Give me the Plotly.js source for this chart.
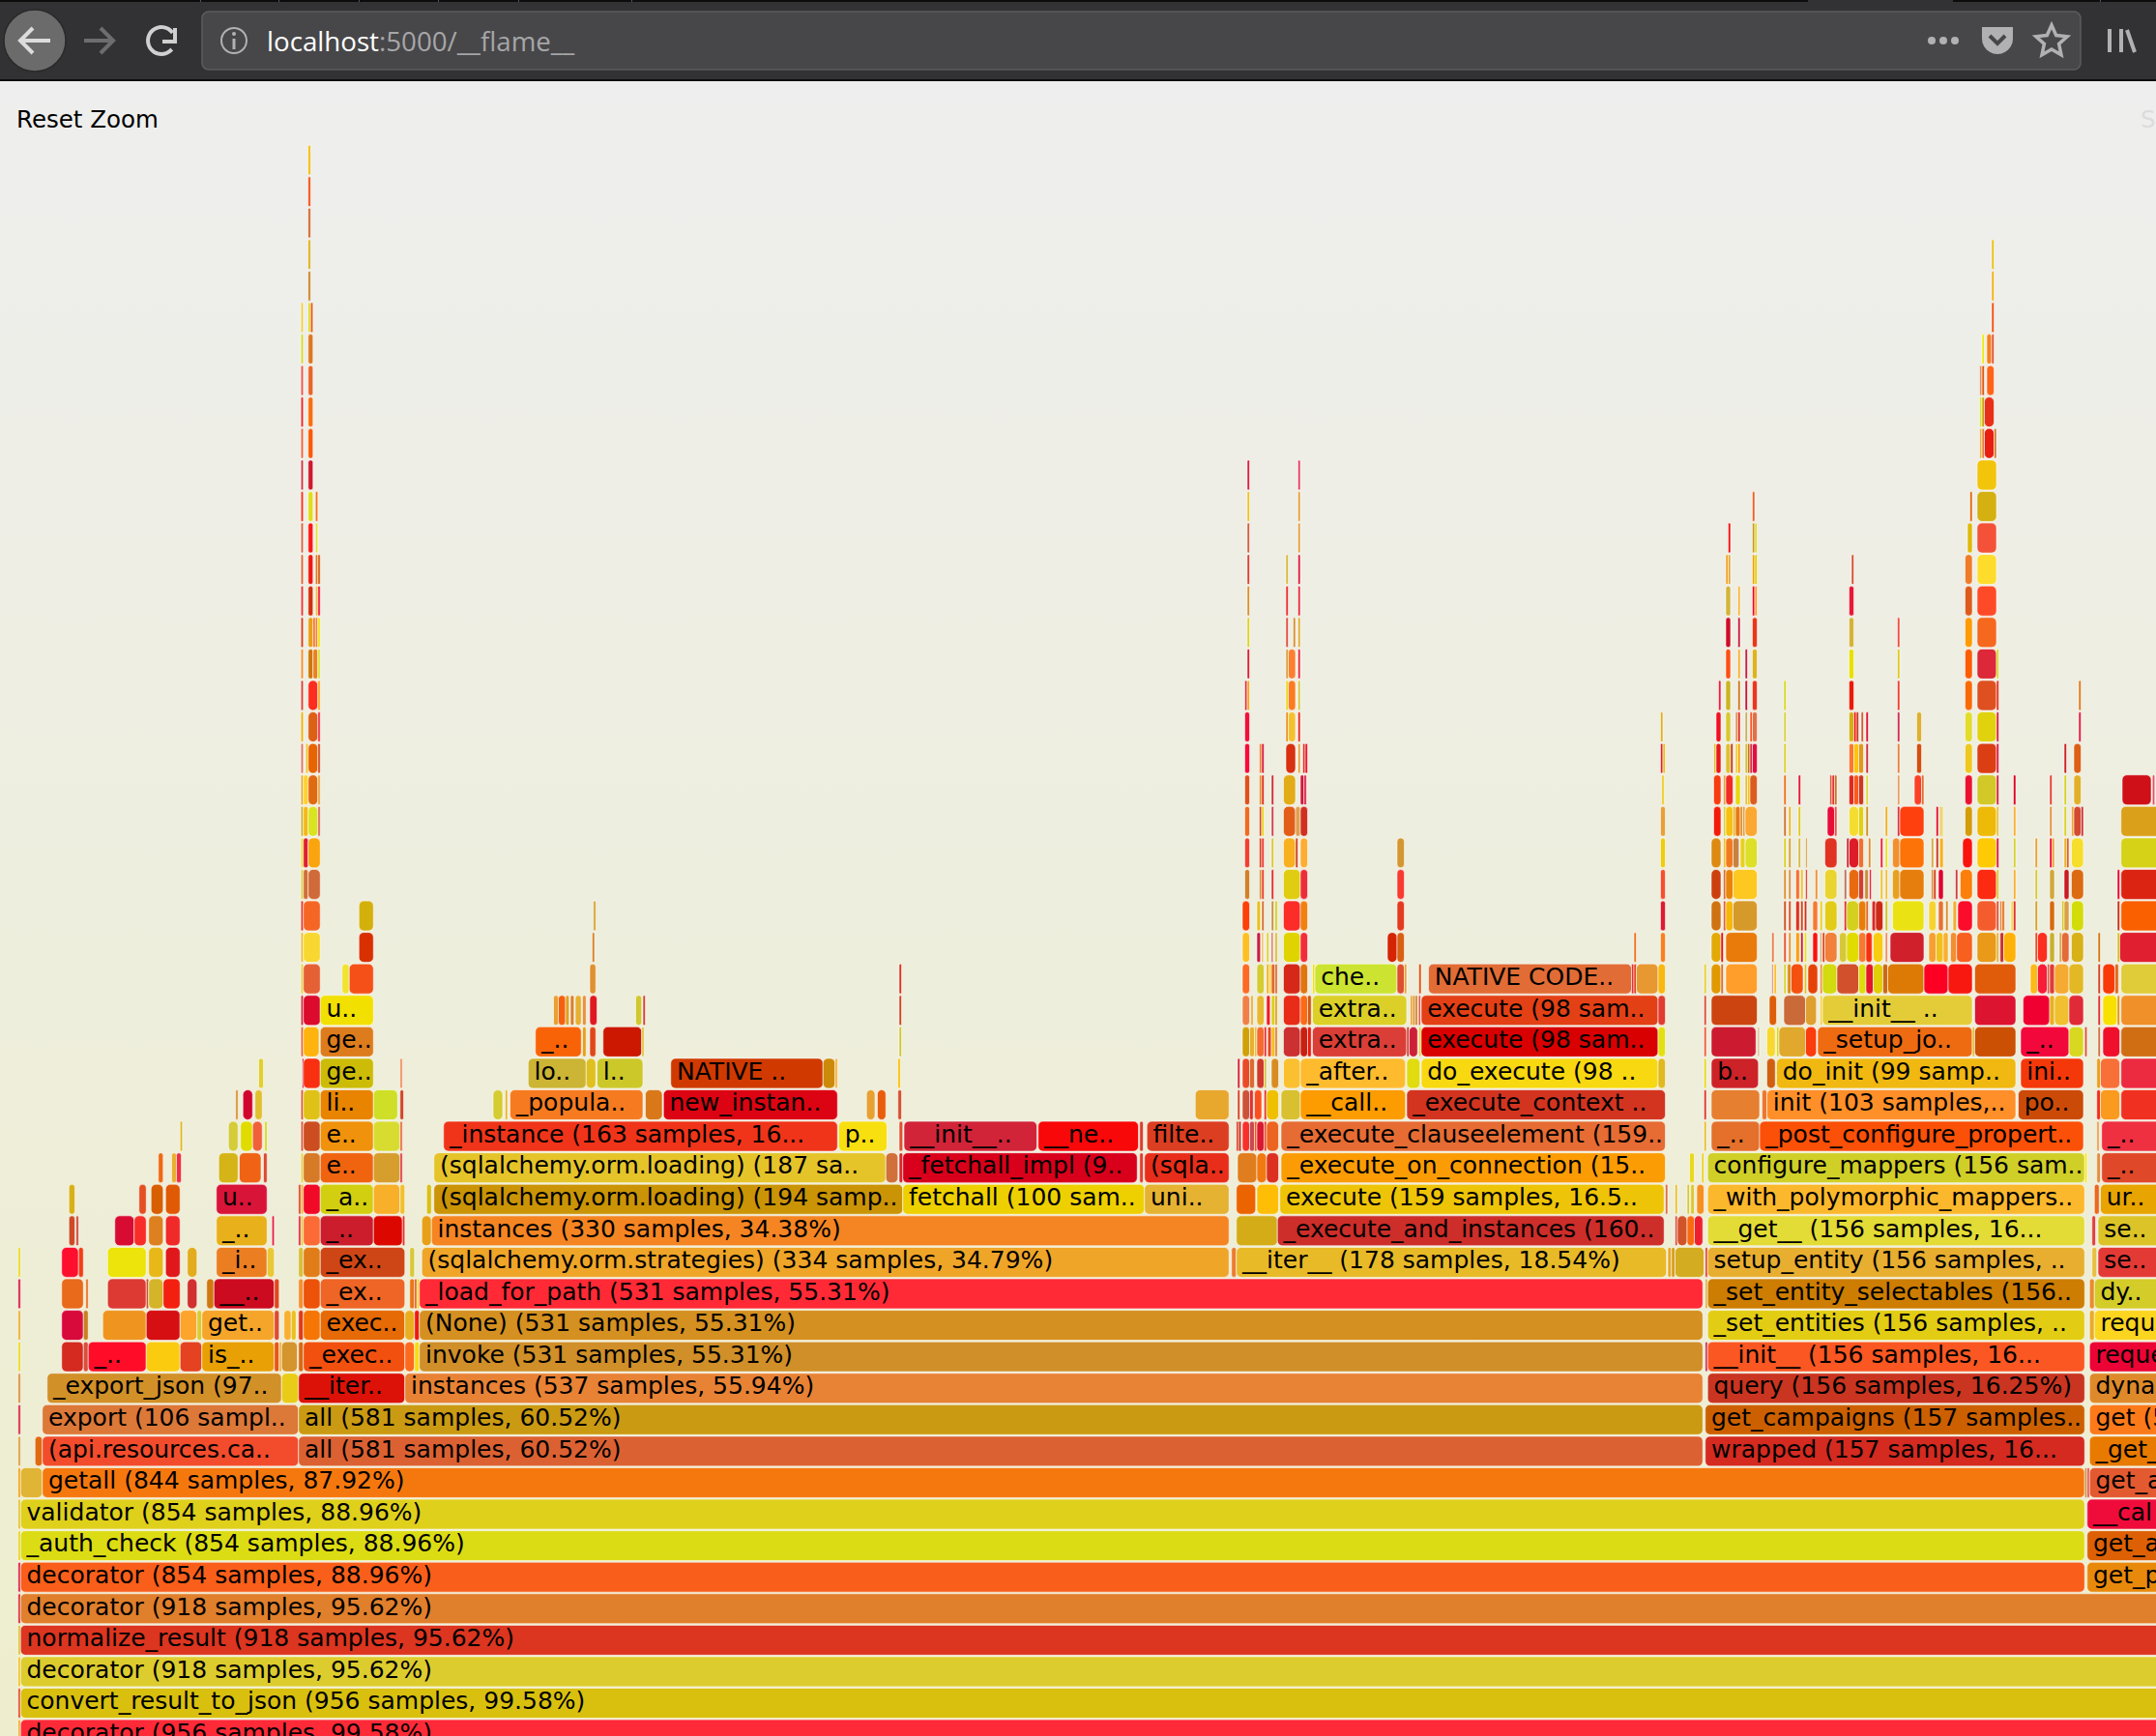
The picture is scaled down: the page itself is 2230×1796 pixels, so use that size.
<!DOCTYPE html>
<html><head><meta charset="utf-8">
<script src="https://cdn.plot.ly/plotly-3.0.1.min.js"></script>
<style>
html,body{margin:0;padding:0;width:2230px;height:1796px;overflow:hidden;background:linear-gradient(to bottom,#eeeeee 0px,#eeeeee 90px,#eeeece 1796px);}
#chart{width:2230px;height:1796px;}
</style></head><body><div id="chart"></div>
<script>
// Flame graph data: every frame is [first sample, sample count, label]; colours are parallel arrays.
const frames0=[[0,1],[1,956,'decorator (956 samples, 99.58%)']];
const colors0=['#e8b030','#ff2a38'];
const frames1=[[0,1],[1,956,'convert_result_to_json (956 samples, 99.58%)']];
const colors1=['#e04a2a','#d9c00e'];
const frames2=[[0,1],[1,918,'decorator (918 samples, 95.62%)']];
const colors2=['#f0c020','#ddcc2e'];
const frames3=[[0,1],[1,918,'normalize_result (918 samples, 95.62%)']];
const colors3=['#d8c030','#dc3520'];
const frames4=[[0,1],[1,918,'decorator (918 samples, 95.62%)']];
const colors4=['#d82a30','#e07f2c'];
const frames5=[[0,1],[1,854,'decorator (854 samples, 88.96%)'],[856,40,'get_p']];
const colors5=['#d81e40','#f95f1a','#e8890c'];
const frames6=[[0,1],[1,854,'_auth_check (854 samples, 88.96%)'],[856,40,'get_a']];
const colors6=['#e8d020','#dcdc14','#dd6005'];
const frames7=[[0,1],[1,854,'validator (854 samples, 88.96%)'],[856,40,'__cal']];
const colors7=['#e0c030','#dfd01c','#ef0c3a'];
const frames8=[[0,1],[1,9],[10,845,'getall (844 samples, 87.92%)'],[855,1],[856,1],[857,40,'get_a']];
const colors8=['#f0a010','#e0b535','#f5780f','#c89040','#e85040','#e35a30'];
const frames9=[[0,1],[7,3],[10,106,'(api.resources.ca..'],[116,581,'all (581 samples, 60.52%)'],[698,157,'wrapped (157 samples, 16...'],[857,40,'_get_']];
const colors9=['#d8a038','#e06a10','#f34c2c','#dc6132','#d42a20','#e87a00'];
const frames10=[[0,1],[10,106,'export (106 sampl..'],[116,581,'all (581 samples, 60.52%)'],[698,157,'get_campaigns (157 samples..'],[857,40,'get (5']];
const colors10=['#d82a40','#dc7838','#ca9a12','#cc6000','#fc7a1a'];
const frames11=[[0,1],[12,97,'_export_json (97..'],[109,7],[116,44,'__iter..'],[160,537,'instances (537 samples, 55.94%)'],[699,156,'query (156 samples, 16.25%)'],[857,40,'dynam']];
const colors11=['#d89038','#d29028','#e8cc18','#dc1208','#e88235','#c93520','#de8a2a'];
const frames12=[[0,1],[18,9],[27,2],[29,24,'_..'],[53,14],[67,9],[76,30,'is_..'],[106,2],[108,1],[109,6.5],[116,2],[118,42,'_exec..'],[160,4],[164,2],[166,531,'invoke (531 samples, 55.31%)'],[698,1],[699,156,'__init__ (156 samples, 16...'],[857,40,'reque']];
const colors12=['#e8d820','#d42a20','#d8503a','#ff0d28','#fbcb10','#e44220','#e8a005','#e85518','#e8b030','#d4942e','#d86a10','#f2500f','#fd6a1e','#f8dc10','#d08f28','#c83050','#fa5722','#eb0435'];
const frames13=[[0,1],[18,9],[27,2],[35,18],[53,14],[67,7],[74,2],[76,30,'get..'],[106,2],[110,3],[113,2],[116,2],[118,7],[125,35,'exec..'],[160,4],[164,2],[166,531,'(None) (531 samples, 55.31%)'],[699,156,'_set_entities (156 samples, ..'],[857,2],[859,40,'reque']];
const colors13=['#e8b030','#d80a3c','#c8801e','#ef951f','#d60f12','#fca42c','#d8cc30','#f5a52a','#dd4b30','#f8b030','#e8c020','#e03a18','#f57505','#e66a05','#e8b020','#ee1a10','#d49020','#e2cd14','#e8ac28','#fbd520'];
const frames14=[[0,1],[18,9],[28,1],[37,16],[53,1],[54,6],[60,7],[70,4],[78,3],[81,25,'__..'],[106,2],[116,2],[118,7],[125,35,'_ex..'],[162,2],[164,1],[165,1],[166,531,'_load_for_path (531 samples, 55.31%)'],[698,1],[699,156,'_set_entity_selectables (156..'],[857,2],[859,40,'dy..']];
const colors14=['#d81e40','#e86a1a','#e8701e','#dc3a32','#d05030','#d4b428','#f32010','#d03030','#d07810','#cc0a20','#e0481e','#f59030','#ec5208','#ee6525','#e8781a','#e05a20','#f0d810','#ff2a35','#e0b040','#cc7d02','#e88c30','#d4cc28'];
const frames15=[[0,1],[18,7],[25,2],[37,16],[54,6],[61,6],[70,4],[82,21,'_i..'],[103,3],[116,2],[118,7],[125,35,'_ex..'],[162,2],[167,334,'(sqlalchemy.orm.strategies) (334 samples, 34.79%)'],[502,2],[504,178,'__iter__ (178 samples, 18.54%)'],[682.5,1.5],[684,1.5],[685.5,12],[698,1],[699,156,'setup_entity (156 samples, ..'],[858,2],[860.5,40,'se..']];
const colors15=['#e8d820','#ff0f2e','#f04018','#ece40a','#e8b818','#e0181c','#e2ac1e','#ec7e22','#e8c838','#d8c038','#e07d18','#cf4616','#d8c838','#efa528','#ec7c30','#e8ba28','#e8a828','#d8a020','#d4ac22','#e0402a','#e8ae30','#e8c040','#e43a36'];
const frames16=[[21,2.5],[24,1],[40,8],[48,5],[54,6],[61,6],[82,21,'_..'],[105,1],[116,1],[117,1],[118,7],[125,22,'_..'],[147,12],[159,1],[167,4],[171,330,'instances (330 samples, 34.38%)'],[504,17],[521,160,'_execute_and_instances (160..'],[685.5,1],[686.5,4],[690.5,3],[693.5,3.5],[699,156,'__get__ (156 samples, 16...'],[858,1.5],[860.5,40,'se..']];
const colors16=['#cc4a26','#d04030','#d80c32','#f82c28','#dc8020','#f02a28','#e8b01a','#e82040','#e02040','#d8d020','#fc6a36','#cc1d2c','#dc0800','#e83020','#e8a018','#f58522','#d4ac18','#cd2e2a','#e05040','#d05428','#fa6a10','#ee2030','#e3db36','#e04040','#dcc428'];
const frames17=[[21,2.5],[50,3],[55,5],[61,6],[82,21,'u..'],[116,1],[117,1],[118,7],[125,22,'_a..'],[147,11],[158,2],[169,2],[172,194,'(sqlalchemy.orm.loading) (194 samp..'],[366,100,'fetchall (100 sam..'],[466,35,'uni..'],[504,8],[512.5,9],[522,159,'execute (159 samples, 16.5..'],[681.5,1],[685.5,1],[690.5,1],[692,1.5],[694.5,3],[699,156,'_with_polymorphic_mappers..'],[859,2],[861.5,40,'ur..']];
const colors17=['#d8b018','#e34e22','#d85e02','#e05a06','#d81438','#d84020','#f5b020','#f00a28','#d2cf10','#f8b02a','#f0c030','#d8c018','#ca9406','#eed000','#e5b232','#ec6400','#ffbe05','#eec408','#e07040','#e8c030','#d8c838','#dcc832','#f59020','#fcb82c','#ec6820','#e8a400'];
const frames18=[[58,2],[63.5,2],[65.5,2],[83,8],[91.5,9],[101.5,1.5],[117,1],[118,7],[125,22,'e..'],[147,11],[158,1],[172,187,'(sqlalchemy.orm.loading) (187 sa..'],[359,5],[364.5,1.5],[366,97,'_fetchall_impl (9..'],[464,1.5],[466,35,'(sqla..'],[504.5,8],[512.5,4],[516.5,5],[522.5,159,'_execute_on_connection (15..'],[691.5,2],[696.5,1],[699,156,'configure_mappers (156 sam..'],[855,1],[860,1.5],[862,40,'_..']];
const colors18=['#f06a10','#e8b030','#f03040','#d4b416','#f06315','#dc4a30','#e8d030','#d67a28','#f0640f','#d69e2c','#e04040','#e5c42a','#d0703a','#d82828','#d8001a','#e04030','#e82e1a','#e07d1e','#f07a10','#dc3020','#fc9c04','#e8d820','#e8d020','#d0cf28','#f8e810','#e09040','#e0482a'];
const frames19=[[67,1],[87,4],[92,5],[97,4],[102,1],[117,1],[118,7],[125,22,'e..'],[147,11],[158,1],[176,163,'_instance (163 samples, 16...'],[339.5,20,'p..'],[364.5,1.5],[366.5,55,'__init__..'],[422,41.5,'__ne..'],[464,1.5],[467,34,'filte..'],[504,1],[505,1],[506.5,3],[509.5,2],[511.5,1],[512.5,3],[515.5,1],[516.5,5],[522.5,159,'_execute_clauseelement (159..'],[697.5,1],[700.5,20,'_..'],[720.5,134,'_post_configure_propert..'],[860,1],[862,40,'_..']];
const colors19=['#e0b820','#d4cc38','#e0dc00','#f0603a','#d4d820','#e05030','#cc4e20','#f0920c','#d8dc30','#e87040','#f0341a','#f8df10','#e05030','#d22438','#f80808','#d84030','#dc3e22','#d84020','#c82818','#f8302a','#c84a50','#f4551e','#d81a30','#ec4020','#ec6520','#e66c34','#e8c030','#e4702c','#fb5008','#e8a050','#ee3040'];
const frames20=[[90,1],[93,4],[98,3],[117,1],[118,7],[125,22,'li..'],[147,10],[158,1.5],[196.5,4],[201.5,1],[203.5,55,'_popula..'],[259.5,7],[267,72,'new_instan..'],[351,3.5],[355.5,3.5],[364,1.5],[487,14],[504.5,1],[506.5,3],[509.5,1.5],[511.5,3],[515.5,1],[516.5,5],[522.5,8],[530.5,43.5,'__call..'],[574.5,107,'_execute_context ..'],[697.5,1],[700.5,20],[721.5,2],[723.5,103,'init (103 samples,..'],[827.5,27,'po..'],[860,1.5],[861.5,8],[870,40]];
const colors20=['#d89030','#d0052e','#e0c030','#e05030','#dfc118','#e88400','#cfdf28','#d04828','#d4cc30','#e8b828','#f67b20','#d87818','#dc0412','#e8a030','#e85c0c','#d85030','#e8a82e','#d84020','#cc5238','#e03030','#fa5020','#e8302a','#eec000','#d8c030','#fc9c00','#d23420','#e03a30','#e67f30','#ec7830','#ff8f28','#cc4a08','#ee3020','#fa9a1e','#f03020'];
const frames21=[[99.5,2],[117.5,0.7],[118,7],[125,22,'ge..'],[158,1],[211,24,'lo..'],[235,4],[239.5,19,'l..'],[270,63,'NATIVE ..'],[333,5],[338,1],[364,1],[504.5,1],[506.5,3],[509.5,2],[512.5,3],[515.5,1],[518.5,3],[523.5,7],[530.5,43.5,'_after..'],[574.5,5.5],[580.5,98,'do_execute (98 ..'],[678.5,3],[697.5,1],[700.5,19.5,'b..'],[723.5,3.5],[727.5,99,'do_init (99 samp..'],[828.5,26,'ini..'],[860,1.5],[861.5,8],[870,40]];
const colors21=['#e0d030','#d82040','#f83010','#ccbc08','#f09060','#ccb434','#e0c020','#ccc82a','#d03a00','#cc8a0a','#f8b030','#f8c000','#d82038','#e84a28','#dc6a30','#d03a2a','#d8c040','#d88c20','#fbc030','#ffbb2e','#e0dc10','#f8d810','#e0b820','#e8d820','#cc2228','#d06010','#f0b810','#f4380a','#e8a020','#f87038','#ec2a40'];
const frames22=[[117,1],[118,6.5],[125,22,'ge..'],[214,19,'_..'],[233.5,1.5],[236.5,2.5],[242,16],[258,1],[364.5,1],[506.5,3],[509.5,2],[511.5,1],[512.5,3],[515.5,1],[517,1.5],[518.5,1.5],[520,1],[523.5,7],[530.5,3],[533.5,1.5],[535.5,39,'extra..'],[574.5,1],[575.5,3.5],[579.5,1],[580.5,98,'execute (98 sam..'],[678.5,3],[697.5,1],[700.5,18.5],[719.5,1],[723.5,3.5],[727.5,1],[728.5,11],[739.5,4.5],[744.5,64,'_setup_jo..'],[808.5,1],[809.5,17],[828.5,20,'_..'],[848.5,6],[855,1],[860.5,1],[862.5,7],[870,40]];
const colors22=['#e86030','#feb30e','#dd7c1c','#f96308','#e8a020','#e04818','#cc1800','#e0c040','#ccc830','#d0a008','#e8b030','#e8c040','#f46a30','#f03030','#e84020','#f0c020','#e08030','#cc3030','#c82010','#e81810','#da3e36','#d04030','#cc2038','#e8d030','#d80000','#e2e010','#f06040','#cc1a30','#e0c8a0','#f8d830','#d8d820','#e0a82c','#fb3c0c','#ee6b12','#e0c040','#cb5003','#f2083a','#d8d820','#e05030','#d07040','#f0102c','#d06e14'];
const frames23=[[117,1],[118,7],[125,22,'u..'],[221.5,2],[223.5,3],[226.5,1.5],[228.5,1.5],[230.5,2.5],[233.5,1.5],[236.5,3],[255.5,2.5],[258.5,1],[364.5,1],[506.5,3],[510,1],[512.5,3],[516.5,1.5],[518.5,1.5],[520,1],[523.5,7],[530.5,3],[533.5,1.5],[535.5,39,'extra..'],[576,1],[577,1],[578,1],[579.4,0.8],[580.5,98,'execute (98 sam..'],[678.5,3],[697.5,1],[700.5,19],[724.5,3],[730.5,9],[739.5,4.5],[745.5,1],[746.5,62,'__init__ ..'],[809.5,17],[829.5,11],[840.5,2],[842.5,6],[848.5,6],[860.5,1],[862.5,6],[868.5,1],[870,40]];
const colors23=['#d82030','#dc0a2c','#f2e000','#e8a030','#f5600f','#e0a020','#d88030','#e8b030','#e89040','#e01820','#d0c830','#d84030','#d84020','#f08048','#e8b030','#e8b830','#f01c28','#d8d020','#e0a020','#e82c18','#fc6a16','#d05a10','#dcd028','#e8a030','#e09020','#d0802e','#e04030','#e34016','#e03c30','#e05040','#cc4410','#dc5e08','#ca6a38','#e0a030','#f8d040','#e4cc38','#dc1430','#f00030','#e8b020','#f0c030','#e02a38','#e03030','#f8e000','#e09020','#f09028'];
const frames24=[[117,1],[118,7],[134,3],[137,10],[236.5,2.5],[364.5,1],[506.5,3],[512.5,3],[516.5,1],[517.5,1],[518.5,1.5],[520,1],[523.5,7],[530.5,3],[535.5,1],[536.5,34,'che..'],[570.5,3],[573.5,1],[579.5,1],[583.5,84,'NATIVE CODE..'],[667.5,1],[668.5,1],[669.5,9],[678.5,3],[697.5,1],[700.5,4],[704.5,1],[706.5,13],[725.5,0.7],[726.5,1],[730.5,1],[732,1.5],[733.5,5],[739,1],[740.5,4],[745.5,1],[746.5,6],[752.5,9],[761.5,3],[764.5,3],[767.5,4],[771.5,2],[773.5,15],[788.5,10],[798.5,10],[809.5,17],[832.5,3],[835.5,4],[839.5,1],[840.5,2],[842.5,6],[848.5,6],[860.5,1],[862.5,5],[867.5,1.5],[870,40]];
const colors24=['#e8d030','#e66035','#f0e430','#f55018','#e09030','#e03020','#fc6a25','#d4cc30','#e8b020','#f8d020','#e06a30','#d87030','#d62818','#e07510','#f0e020','#cce431','#dc5030','#f0a030','#e85010','#e26c35','#e83030','#e04020','#e89830','#f8b810','#e8d030','#e09a00','#d87030','#ff9e2a','#e89060','#f8c030','#d8d030','#d89020','#f4500f','#e0c020','#e54208','#f09040','#d2da10','#d2502c','#dedc0c','#e4162a','#e0ce06','#cc6a16','#dc7a05','#fc0024','#f81810','#e05c0a','#fcba18','#f81c38','#d06040','#e03c38','#f5aa32','#e2b824','#d84020','#f83a08','#e06a20','#dfcc38'];
const frames25=[[117,1],[118,7],[141,6],[237.5,1],[506.5,3],[512.5,1.5],[514.5,0.7],[516.5,1],[518.5,0.7],[520,1],[523.5,7],[530.5,3],[566.5,4],[570.5,3],[668.5,1],[679.5,2],[700.5,4],[704.5,1],[706.5,13],[725.5,1],[730.5,1],[732.5,1],[735.5,1.5],[737.5,1],[739,1],[742.5,2],[745.5,0.7],[746.5,1],[747.5,5],[753.5,3],[756.5,5],[761.5,3],[764.5,2.5],[767.5,4],[772.5,1],[774.5,14],[790.5,3],[793.5,3],[796.5,2],[799.5,2.5],[802,6.5],[810.5,8],[818.5,1],[820,1.5],[821.5,5],[834.5,1],[835.5,4],[840.5,2],[844.5,1],[845.5,3],[849.5,5],[860.5,1],[868.5,1],[869.5,40]];
const colors25=['#f0b820','#f8d830','#d83000','#d88020','#fcc024','#cc1c40','#e8b030','#e0d030','#d85050','#d8c030','#e0d400','#f22c3a','#d42404','#d86014','#f07020','#f88020','#e2aa06','#e81010','#e97b0a','#e88050','#e85030','#e89030','#f8a010','#d02030','#e8e020','#fc1010','#c8a060','#e04020','#f0803a','#d8c838','#e0dc00','#f47a30','#f83010','#f8cc10','#f09060','#d0202c','#f5a030','#f0c020','#f8b030','#f09030','#f86020','#e89a18','#e8b030','#cc3030','#feb208','#f04a20','#fc2e20','#c8b030','#d8a840','#e46a38','#d8b018','#d07810','#d8c020','#e02030'];
const frames26=[[117,1],[118,7],[141,6],[238,1],[506.5,3],[512.5,1.5],[514.5,1],[518.5,1],[520,1],[523.5,7],[530.5,3],[570.5,3],[679.5,2],[700.5,4],[705.5,1],[706.5,3],[709.5,10],[730.5,1],[732.5,1],[735.5,1.5],[737.5,1],[739,1],[742.5,2],[745.5,1],[747.5,5],[755.5,1],[756.5,5],[761.5,3],[764.5,1],[767,1.5],[768.5,3],[772.5,1],[775.5,13],[790.5,3],[794.5,2],[797.5,1],[800.5,1.5],[802.5,6],[810.5,8],[818.5,1],[820,0.7],[820.8,1],[824.5,1],[825.5,1],[834.5,1],[840.5,2],[845.5,1],[846.5,2],[849.5,5],[868.5,1],[870,40]];
const colors26=['#e83020','#f56625','#d4b00c','#d8a030','#fc4008','#e8c020','#d87030','#c89040','#d0d020','#fc2c28','#f08010','#e43a20','#dc1c30','#ce7212','#e06040','#f5b808','#d69a2a','#d05020','#d85020','#e03020','#d04818','#cc3020','#f87830','#e8d020','#e2cc18','#e03030','#d4d020','#e87e08','#e06a28','#d82828','#cc2a14','#d0c020','#ebe214','#f5d430','#e87030','#d8902a','#f0b030','#fa0c2a','#f45c2e','#e05030','#e07018','#e07018','#f0e030','#e03030','#d8a020','#d86a10','#d8c830','#d8a040','#d2dc08','#c83018','#fa6000'];
const frames27=[[117,1],[118,2],[120,5],[507.5,2],[513.5,1],[514.5,1],[518.5,1],[523.5,7],[530.5,3],[570.5,3],[679.5,2],[700.5,4],[705.5,1],[706.5,3],[709.5,10],[730.5,1],[732.5,1],[735.5,1.5],[737.5,1],[739.5,0.7],[743.5,1],[747.5,5],[755.5,1],[757.5,4],[761.5,2],[764,1.5],[766,0.7],[770.5,1],[772.5,1],[775.5,3],[778.5,10],[791.5,1],[792.5,1],[794.5,2],[801.5,1],[803.5,5],[810.5,8],[818.5,1],[825.5,1],[834.5,1],[840.5,2],[846.5,2],[849.5,5],[868.5,1],[870,40]];
const colors27=['#e0d030','#d07038','#d06a38','#d08028','#d89030','#e84030','#e03030','#e0cc10','#ec2c3a','#f83a30','#f45030','#cc400e','#d87030','#e88408','#fdc820','#d89030','#d89040','#f87030','#f0c030','#e03020','#f09030','#ead430','#c07060','#e86a10','#d04030','#c89040','#f00020','#f0c030','#f0c030','#e8a020','#e67e0e','#d89040','#d84020','#e00030','#d04040','#fb7f0a','#fc2a10','#d8c830','#f8b030','#d8c830','#d0a838','#cc1820','#dc6a10','#f00030','#dc2412'];
const frames28=[[117,1],[118,2],[120,5],[507.5,2],[513.5,1],[514.5,1],[518.5,1],[523.5,5],[528.5,1],[530.5,3],[570.5,3],[679.5,2],[700.5,4],[705.5,1],[706.5,3],[709.5,2.5],[712.5,2],[714.5,5],[730.5,1],[732.5,1],[736.5,1],[739.5,0.7],[747.5,5],[756.5,1],[757.5,4],[761.5,2],[765.5,1],[770.5,1],[772.5,1],[775.5,3],[778.5,10],[791.5,1],[793.5,1],[795,1.5],[804.5,4],[810.5,8],[818.5,1],[825.5,1],[834.5,1],[840.5,1],[841.5,1],[846.5,1],[847.5,1],[849.5,5],[870,40]];
const colors28=['#f0e020','#e02030','#faa40e','#f04030','#d84020','#e84030','#d8c830','#f8b020','#d04020','#fdad32','#d49630','#f0cc10','#dc8a10','#f0c020','#f27a1e','#c88240','#e8d020','#dce028','#d8d020','#d8a030','#d8b840','#d8a040','#e03322','#c82838','#dc1c28','#f07030','#e09030','#f02040','#e8e020','#f09030','#fd7308','#d8a840','#c83820','#f8b020','#fa1410','#feca05','#e01840','#d8d030','#e8a030','#f00030','#f8a030','#e8b020','#e06020','#f5de2c','#d6d218'];
const frames29=[[117,1],[118,2],[120,4],[124,1],[507.5,2],[513.5,1],[514.5,1],[518.5,1],[523.5,5],[528.5,2],[530.5,3],[679.5,2],[701.5,3],[705.5,1],[706.5,3],[709.5,1],[710.5,2],[712.5,1],[713.5,1],[714.5,5],[730.5,1],[732.5,1],[736.5,1],[748.5,3],[751.5,1],[757.5,4],[761.5,2],[764.5,1],[772.5,1],[777.5,1],[778.5,10],[793.5,1],[795,0.7],[795.7,0.7],[805.5,3],[810.5,8],[818.5,1],[825.5,1],[840.5,1],[846.5,1],[849.5,1],[850.5,3],[853.5,1],[870,40]];
const colors29=['#c8b020','#f5b818','#d8e41e','#d86a50','#f06a20','#d05020','#e8d020','#d04050','#e25e18','#e0a050','#d03020','#e8a038','#f41a0a','#d8d040','#f5c010','#e8b020','#e87a10','#d89030','#e8a040','#faa832','#d07030','#e8b820','#e0c820','#e80c38','#f05040','#f5dc30','#e0d010','#d09020','#f0b020','#d83040','#fe3f0e','#e01830','#e8a830','#e0d020','#d49c08','#eeba08','#e8c040','#f8b030','#e09040','#d8d020','#f0a030','#d24a30','#d03030','#dba01a'];
const frames30=[[117,1],[118,2],[120,4],[124,1],[507.5,2],[513.5,1],[514.5,1],[518.5,1],[523.5,5],[530.5,1.5],[532,1],[680,1],[701.5,3],[705.5,1],[706.5,3],[710.5,2],[714.5,1],[715.5,1],[716.5,3],[730.5,1],[736.5,1],[749.5,1],[750.5,1],[751.5,1],[757.5,2],[759.5,2],[761.5,2],[764.5,1],[777.5,1],[784.5,3],[787.5,1],[805.5,3],[810.5,8],[818.5,1],[825.5,1],[840.5,1],[846.5,1],[850.5,3],[870.5,12],[883,1]];
const colors30=['#e0a820','#ffd030','#e06a10','#e8a040','#e0501a','#e09020','#e03020','#cc3030','#e2ac18','#d01838','#d82040','#f0c820','#f83c10','#e8a040','#f02c24','#e8d808','#e8c030','#f8c020','#dc5c1e','#f07020','#e81830','#d86040','#e03030','#d07020','#e02a20','#fb5a1e','#cc3820','#e0d840','#e8a060','#fc4028','#e07030','#ea1230','#d2c828','#d82040','#e00020','#e04030','#d8d020','#e2b028','#d01018','#e85060'];
const frames31=[[117,1],[119,1],[120,4],[124,1],[507.5,2],[513.5,1],[514.5,1],[524.5,4],[529.5,1],[531.5,1],[532.5,1],[679.5,1],[680.5,1],[701.5,1],[702.5,2],[706.5,2],[708.5,1],[710.5,1],[711.5,1],[714.5,1],[715.5,1],[716.5,1],[717.5,2],[730.5,1],[757.5,2],[759.5,2],[761.5,2],[764.5,1],[777.5,1],[785.5,2],[805.5,3],[810.5,8],[818.5,1],[846.5,1],[850.5,3]];
const colors31=['#e07060','#f0c020','#e86400','#d04820','#f80a38','#f08030','#d82040','#d83010','#e8a040','#e83020','#e81830','#e02030','#e8c020','#e8c030','#e81818','#dcc030','#c83820','#f0d020','#f8a010','#d8c030','#c87018','#d03040','#e01040','#d8d030','#fc7830','#fcc410','#e09820','#d03040','#e88040','#d44e10','#eec81e','#dc3e14','#e01840','#cc2020','#dc6015'];
const frames32=[[117,1],[120,4],[124,1],[507.5,2],[524.5,1],[525.5,3],[529.5,1],[679.5,1],[702.5,2],[706.5,2],[710.5,1],[711.5,1],[714.5,1],[716.5,1],[717.5,2],[730.5,1],[757.5,2],[759.5,1],[760.5,1],[762.5,1],[764.5,1],[777.5,1],[785.5,2],[805.5,3],[810.5,8],[818.5,1],[852.5,1]];
const colors32=['#eeb000','#dd6015','#f03040','#f01038','#e89020','#f5c030','#e83020','#e0b020','#f01020','#d8c830','#e89050','#e03020','#c8b060','#f85820','#e0704a','#d8d040','#d4b010','#f01010','#d03820','#d06030','#d81838','#d03050','#dcb030','#e2dc2c','#e0d20c','#d82040','#e81840'];
const frames33=[[117,1],[120,4],[124,1],[507.5,1],[508.5,1],[524.5,1],[525.5,3],[529.5,1],[703.5,1],[706.5,2],[711.5,1],[714.5,1],[717.5,2],[730.5,1],[757.5,2],[777.5,1],[805.5,3],[810.5,8],[818.5,1],[852.5,1]];
const colors33=['#d84030','#fc2e20','#f8a820','#e03040','#f0a820','#e8d820','#fc7c20','#d8c840','#f02040','#ccb420','#d07820','#c81838','#e8381e','#d8d820','#ec1a00','#f04030','#f86a04','#de5020','#e83020','#e07818'];
const frames34=[[117,1],[120,2],[122,2],[124,1],[508.5,1],[524.5,1],[525.5,3],[529.5,1],[706.5,2],[711.5,1],[714.5,1],[717.5,2],[757.5,2],[777.5,1],[805.5,3],[810.5,8],[818.5,1]];
const colors34=['#f88a20','#cc7808','#ec8020','#d8e030','#d82030','#d8a040','#fc8030','#e83040','#fc5014','#f8b030','#c82040','#dcb420','#e8e000','#e0c820','#fc5c04','#dc2838','#d8d820'];
const frames35=[[117,1],[120,2],[122,1],[123,1],[124,1],[508.5,1],[524.5,1],[527.5,1],[529.5,1],[706.5,2],[711.5,1],[717.5,2],[757.5,2],[777.5,1],[805.5,3],[810.5,8]];
const colors35=['#d83c10','#e8a018','#f86a10','#f08030','#f0e010','#e0d020','#e05040','#d89030','#e0b030','#d00c28','#c82040','#e83818','#d4b438','#f05040','#fe9a04','#f5681e'];
const frames36=[[117,1],[120,2],[123,1],[124,1],[508.5,1],[524.5,1],[529.5,1],[706.5,2],[711.5,1],[717.5,1],[718.5,1],[757.5,2],[805.5,3],[810.5,8]];
const colors36=['#f03030','#d03010','#f8c020','#f01840','#d89030','#f03030','#e83040','#d4b438','#f8b840','#f00020','#f8a030','#e81838','#dc5c1c','#ff4a28'];
const frames37=[[117,1],[120,2],[123,1],[124,1],[508.5,1],[524.5,1],[529.5,1],[706.5,1],[707.5,1],[717.5,1],[718.5,1],[758.5,1],[805.5,3],[810.5,8]];
const colors37=['#e06030','#f01810','#f07010','#d05a10','#d84030','#d8b840','#e02040','#f0a020','#e8a830','#eea000','#e0d000','#d85030','#ee7c28','#fedc2c'];
const frames38=[[117,1],[120,2],[123,1],[508.5,1],[529.5,1],[707.5,1],[717.5,1],[718.5,1],[806.5,2],[810.5,8]];
const colors38=['#d86040','#fc1818','#e8e030','#d06040','#e8a040','#f81010','#c89820','#e0dc30','#e0b808','#f45238'];
const frames39=[[117,1],[120,2],[123,1],[508.5,1],[529.5,1],[717.5,1],[807.5,1],[810.5,8]];
const colors39=['#ff2a10','#e0dc18','#f87010','#f0c020','#e8a040','#f06020','#e06a10','#d4b010'];
const frames40=[[117,1],[120,2],[508.5,1],[529.5,1],[810.5,8]];
const colors40=['#d03040','#d01830','#d82040','#e84060','#f2c40a'];
const frames41=[[117,1],[120,2],[811.5,1],[812.5,1],[813.5,4],[817.5,1]];
const colors41=['#f06030','#fb5a08','#f0b040','#e08040','#e81e10','#d07828'];
const frames42=[[117,1],[120,2],[811.5,1],[812.5,1],[813.5,4]];
const colors42=['#f02020','#fb6e0e','#d8e030','#c8a010','#e83018'];
const frames43=[[117,1],[120,2],[811.5,1],[812.5,1],[814.5,3]];
const colors43=['#f05040','#e8652a','#e89060','#dc5a10','#ff6418'];
const frames44=[[117,1],[120,2],[812.5,1],[814.5,2],[816.5,1]];
const colors44=['#d8d820','#dc7820','#ece810','#f58020','#e85030'];
const frames45=[[117,1],[120,1],[121,1],[816.5,1]];
const colors45=['#f0d040','#d8d820','#e85a10','#f05010'];
const frames46=[[120,1],[816.5,1]];
const colors46=['#c88020','#f0b010'];
const frames47=[[120,1],[816.5,1]];
const colors47=['#d8b010','#e8c010'];
const frames48=[[120,1]];
const colors48=['#d06020'];
const frames49=[[120,1]];
const colors49=['#f04808'];
const frames50=[[120,1]];
const colors50=['#f5b800'];

const allFrames=[frames0,frames1,frames2,frames3,frames4,frames5,frames6,frames7,frames8,frames9,frames10,frames11,frames12,frames13,frames14,frames15,frames16,frames17,frames18,frames19,frames20,frames21,frames22,frames23,frames24,frames25,frames26,frames27,frames28,frames29,frames30,frames31,frames32,frames33,frames34,frames35,frames36,frames37,frames38,frames39,frames40,frames41,frames42,frames43,frames44,frames45,frames46,frames47,frames48,frames49,frames50];
const allColors=[colors0,colors1,colors2,colors3,colors4,colors5,colors6,colors7,colors8,colors9,colors10,colors11,colors12,colors13,colors14,colors15,colors16,colors17,colors18,colors19,colors20,colors21,colors22,colors23,colors24,colors25,colors26,colors27,colors28,colors29,colors30,colors31,colors32,colors33,colors34,colors35,colors36,colors37,colors38,colors39,colors40,colors41,colors42,colors43,colors44,colors45,colors46,colors47,colors48,colors49,colors50];

const barY=[],barBase=[],barLen=[],barColor=[],txtX=[],txtY=[],txtS=[];
const LABEL_PAD=2.5;
allFrames.forEach((row,lvl)=>row.forEach((f,i)=>{
  barY.push(lvl);barBase.push(f[0]);barLen.push(f[1]);barColor.push(allColors[lvl][i]||'#e08030');
  if(f[2]){txtX.push(f[0]+LABEL_PAD);txtY.push(lvl);txtS.push(f[2]);}
}));

const W=2230,H=1796;
const PX=x=>x/W, PY=y=>1-y/H;
const poly=(pts,close)=>'M'+pts.map(p=>PX(p[0]).toFixed(5)+','+PY(p[1]).toFixed(5)).join('L')+(close?'Z':'');
const rect=(x0,y0,x1,y1,fill)=>({type:'rect',xref:'paper',yref:'paper',x0:PX(x0),x1:PX(x1),y0:PY(y0),y1:PY(y1),fillcolor:fill,line:{width:0},layer:'above'});
const stroke=(pts,color,w)=>({type:'path',xref:'paper',yref:'paper',path:poly(pts,false),line:{color:color,width:w},fillcolor:'rgba(0,0,0,0)',layer:'above'});
const fillP=(pts,color)=>({type:'path',xref:'paper',yref:'paper',path:poly(pts,true),line:{width:0},fillcolor:color,layer:'above'});
const circ=(cx,cy,r,fill,lc,lw)=>({type:'circle',xref:'paper',yref:'paper',x0:PX(cx-r),x1:PX(cx+r),y0:PY(cy+r),y1:PY(cy-r),fillcolor:fill,line:{color:lc||'rgba(0,0,0,0)',width:lw||0},layer:'above'});
function arc(cx,cy,r,a0,a1,n){const p=[];for(let i=0;i<=n;i++){const a=(a0+(a1-a0)*i/n)*Math.PI/180;p.push([cx+r*Math.cos(a),cy+r*Math.sin(a)]);}return p;}
function round(x0,y0,x1,y1,r){return [].concat(arc(x0+r,y0+r,r,180,270,6),arc(x1-r,y0+r,r,270,360,6),arc(x1-r,y1-r,r,0,90,6),arc(x0+r,y1-r,r,90,180,6));}
const star=[];for(let i=0;i<10;i++){const r=i%2?8:17,a=(-90+36*i)*Math.PI/180;star.push([2122+r*Math.cos(a),43+r*Math.sin(a)]);}

const shapes=[
 rect(0,0,W,83,'#323234'),rect(0,0,1870,2,'#0c0c0d'),rect(2020,0,W,2,'#0c0c0d'),rect(0,82,W,84,'#0c0c0d'),
 {type:'path',xref:'paper',yref:'paper',path:poly(round(209,12,2152,72,7),true),fillcolor:'#474749',line:{color:'#5c5c5e',width:1.5},layer:'above'},
 circ(36,42,32,'#6b6b6b','#2a2a2a',1.5),
 stroke([[34,29],[21,42],[34,55]],'#dcdcdc',4),stroke([[21,42],[52,42]],'#dcdcdc',4),
 stroke([[104,29],[117,42],[104,55]],'#6d6d6f',4),stroke([[87,42],[117,42]],'#6d6d6f',4),
 stroke(arc(167,42,14,-35,-320,24),'#d0d0d0',4),stroke([[181,29],[181,43],[168,43]],'#d0d0d0',4),
 circ(242,42,13,'rgba(0,0,0,0)','#b1b1b3',2),circ(242,35,2,'#b1b1b3'),stroke([[242,40],[242,51]],'#b1b1b3',3),
 circ(1998,42,4,'#b1b1b3'),circ(2010,42,4,'#b1b1b3'),circ(2022,42,4,'#b1b1b3'),
 fillP([].concat([[2050,28],[2082,28],[2082,40]],arc(2066,40,16,0,180,12),[[2050,28]]),'#b1b1b3'),
 stroke([[2058,37],[2066,45],[2074,37]],'#474749',4),
 {type:'path',xref:'paper',yref:'paper',path:poly(star,true),fillcolor:'rgba(0,0,0,0)',line:{color:'#b1b1b3',width:3.5},layer:'above'},
 stroke([[2182,30],[2182,54]],'#b1b1b3',4),stroke([[2194,30],[2194,54]],'#b1b1b3',4),stroke([[2200,31],[2208,54]],'#b1b1b3',4)
];
[207,288,371,453,536,653,2172].forEach(x=>shapes.push(rect(x,0,x+1,2,'#55555a')));

const annotations=[
 {xref:'paper',yref:'paper',x:PX(274),y:PY(42),xanchor:'left',yanchor:'middle',showarrow:false,
  text:'<span style="color:#ffffff">localhost</span><span style="color:#a6a6a8">:5000/__flame__</span>',
  font:{family:'"Open Sans",sans-serif',size:27.7}},
 {xref:'paper',yref:'paper',x:PX(15),y:PY(124),xanchor:'left',yanchor:'middle',showarrow:false,text:'Reset Zoom',
  font:{family:'"DejaVu Sans",sans-serif',size:24.5,color:'#000'}},
 {xref:'paper',yref:'paper',x:PX(2212),y:PY(124),xanchor:'left',yanchor:'middle',showarrow:false,text:'S',
  font:{family:'"DejaVu Sans",sans-serif',size:24.5,color:'#dcdcdc'}}
];

Plotly.newPlot('chart',[
 {type:'bar',orientation:'h',y:barY,x:barLen,base:barBase,width:0.95,
  marker:{color:barColor,line:{color:'rgba(255,255,255,0.55)',width:1}},hoverinfo:'skip',showlegend:false},
 {type:'scatter',mode:'text',x:txtX,y:txtY,text:txtS,textposition:'middle right',
  textfont:{family:'"DejaVu Sans",Verdana,sans-serif',size:25,color:'#000'},hoverinfo:'skip',showlegend:false}
],{
 width:W,height:H,margin:{l:0,r:0,t:0,b:0,pad:0},
 paper_bgcolor:'rgba(0,0,0,0)',plot_bgcolor:'rgba(0,0,0,0)',
 barmode:'overlay',barcornerradius:5,showlegend:false,
 xaxis:{range:[-7.5,884.5],visible:false,fixedrange:true},
 yaxis:{range:[-0.043,55.083],visible:false,fixedrange:true},
 shapes:shapes,annotations:annotations
},{displayModeBar:false,staticPlot:true});
</script></body></html>
